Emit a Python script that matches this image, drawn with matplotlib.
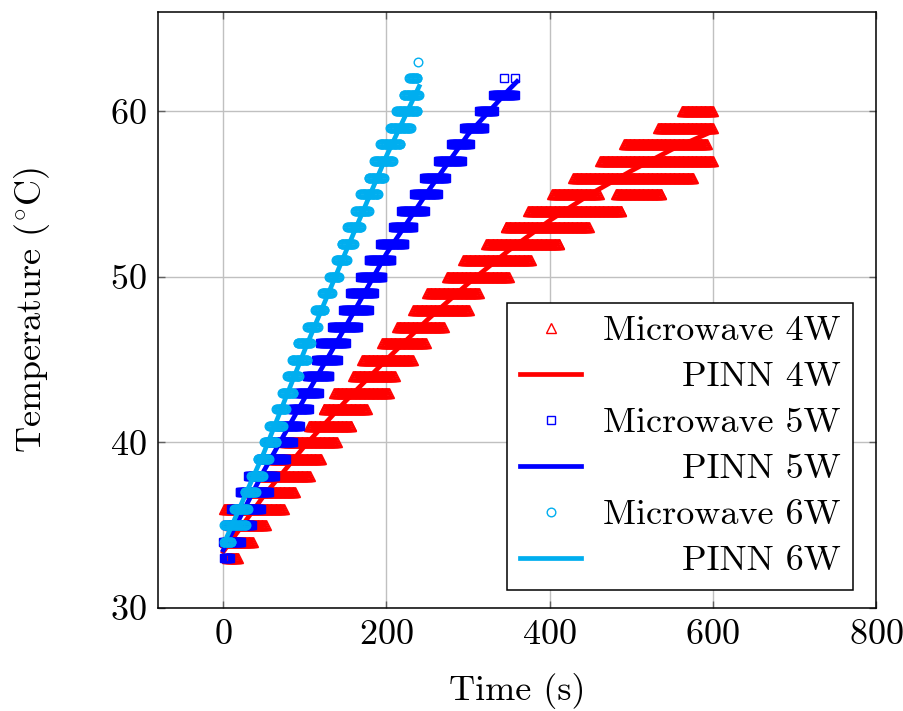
import numpy as np
import matplotlib
matplotlib.use('Agg')
import matplotlib.pyplot as plt

plt.rcParams['font.family'] = 'serif'
plt.rcParams['font.serif'] = ['cmr10']
plt.rcParams['mathtext.fontset'] = 'cm'
plt.rcParams['axes.unicode_minus'] = False
plt.rcParams['axes.formatter.use_mathtext'] = True

# measured temperature plateaus: (level, first second, last second)
levels_4w = [33, 34, 35, 36, 37, 38, 39, 40, 41, 42, 43, 44, 45, 46, 47, 48,
             49, 50, 51, 52, 53, 54, 55, 55, 56, 57, 58, 59, 60]
start_4w = [5, 2, 8, 1, 30, 45, 58, 75, 105, 123, 136, 159, 170, 195, 213, 233,
            250, 274, 294, 322, 346, 374, 403, 481, 429, 462, 491, 533, 562]
end_4w = [18, 36, 52, 74, 88, 106, 120, 139, 157, 176, 203, 210, 232, 248, 270, 301,
          313, 350, 377, 412, 448, 488, 460, 537, 576, 600, 593, 600, 600]

levels_5w = [33, 34, 35, 36, 37, 38, 39, 40, 41, 42, 43, 44, 45, 46, 47, 48,
             49, 50, 51, 52, 53, 54, 55, 56, 57, 58, 59, 60, 61, 62, 62]
start_5w = [1, 0, 3, 10, 20, 30, 45, 55, 68, 83, 90, 102, 114, 119, 133, 147,
            155, 168, 178, 192, 208, 218, 234, 246, 263, 279, 295, 314, 331, 344, 358]
end_5w = [8, 22, 35, 46, 56, 63, 77, 85, 94, 105, 117, 130, 140, 150, 165, 178,
          185, 195, 206, 222, 233, 247, 263, 273, 292, 302, 320, 332, 357, 344, 358]

levels_6w = [34, 35, 36, 37, 38, 39, 40, 41, 42, 43, 44, 45, 46, 47, 48, 49,
             50, 51, 52, 53, 54, 55, 56, 57, 58, 59, 60, 61, 62, 63]
start_6w = [1, 1, 13, 26, 34, 42, 50, 56, 65, 72, 78, 84, 91, 103, 113, 121,
            130, 138, 145, 152, 162, 168, 178, 185, 192, 204, 212, 221, 228, 239]
end_6w = [10, 28, 30, 40, 49, 56, 65, 73, 77, 86, 93, 103, 107, 116, 124, 133,
          142, 152, 160, 169, 178, 190, 197, 208, 217, 230, 238, 240, 238, 239]

# PINN predictions
pinn_t_4w = [0, 50, 100, 150, 200, 250, 300, 350, 400, 450, 500, 550, 600]
pinn_T_4w = [33.4, 36.8, 39.8, 42.5, 45.0, 47.4, 49.6, 51.6, 53.4, 55.0, 56.4, 57.7, 58.8]
pinn_t_5w = [0, 50, 100, 150, 200, 250, 300, 350, 360]
pinn_T_5w = [33.5, 38.3, 42.7, 47.0, 51.4, 55.1, 58.6, 61.3, 61.8]
pinn_t_6w = [0, 50, 100, 150, 200, 240]
pinn_T_6w = [33.8, 39.4, 45.6, 51.5, 57.3, 61.5]


def samples(levels, start, end):
    # sensor logged once per second
    t, T = [], []
    for lv, a, b in zip(levels, start, end):
        ts = np.arange(a, b + 1)
        t.extend(ts)
        T.extend([lv] * len(ts))
    return np.array(t), np.array(T)


red = '#ff0000'
blue = '#0000ff'
cyan = '#00aeef'
fs = 26

fig = plt.figure(figsize=(9.04, 7.11), dpi=100)
ax = fig.add_axes([0.1748, 0.1449, 0.7942, 0.8383])

t4, T4 = samples(levels_4w, start_4w, end_4w)
t5, T5 = samples(levels_5w, start_5w, end_5w)
t6, T6 = samples(levels_6w, start_6w, end_6w)

mk = dict(linestyle='none', markerfacecolor='none', markeredgewidth=1.0)
ax.plot(t4, T4, marker='^', markersize=6.5, color=red, label='Microwave 4W', **mk)
ax.plot(pinn_t_4w, pinn_T_4w, color=red, lw=3.4, label='PINN 4W')
ax.plot(t5, T5, marker='s', markersize=5.8, color=blue, label='Microwave 5W', **mk)
ax.plot(pinn_t_5w, pinn_T_5w, color=blue, lw=3.4, label='PINN 5W')
ax.plot(t6, T6, marker='o', markersize=6.2, color=cyan, label='Microwave 6W', **mk)
ax.plot(pinn_t_6w, pinn_T_6w, color=cyan, lw=3.4, label='PINN 6W')

ax.set_xlim(-80, 800)
ax.set_ylim(30, 66)
ax.set_xticks([0, 200, 400, 600, 800])
ax.set_yticks([30, 40, 50, 60])
ax.grid(True, color='#c0c0c0', lw=1.0)
ax.set_axisbelow(True)
ax.tick_params(labelsize=fs, direction='in', length=5, width=1, color='#606060', pad=8,
               top=True, right=True)
for s in ax.spines.values():
    s.set_linewidth(1.1)

ax.set_xlabel('Time (s)', fontsize=fs, labelpad=16)
ax.set_ylabel(r'Temperature ($^{\circ}$C)', fontsize=fs, labelpad=42)

leg = ax.legend(loc='lower right', bbox_to_anchor=(0.968, 0.030), borderaxespad=0,
                fontsize=fs, fancybox=False, framealpha=1, edgecolor='black',
                handlelength=1.7, handletextpad=0.6, labelspacing=0.38,
                borderpad=0.35, numpoints=1)
leg.get_frame().set_linewidth(1.1)

# right-align legend labels while keeping handles on the left
fig.canvas.draw()
r = fig.canvas.get_renderer()
rows = leg._legend_handle_box.get_children()[0].get_children()
wmax = max(row.get_bbox(r).width for row in rows)
for row in rows:
    row.mode = 'expand'
    row.width = wmax

fig.savefig('out.png', dpi=100)
